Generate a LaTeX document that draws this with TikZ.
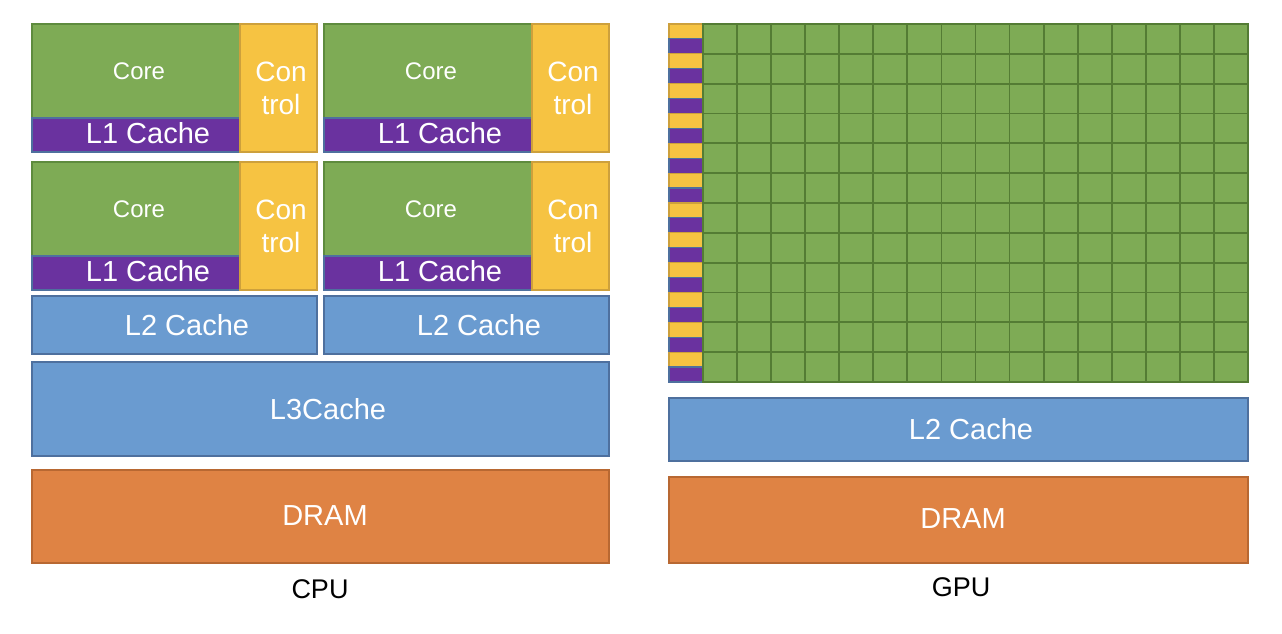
\documentclass[tikz,border=0pt]{standalone}
\usepackage{fontspec}
\setmainfont{Liberation Sans}
\definecolor{coregreen}{RGB}{126,171,85}
\definecolor{coreline}{RGB}{94,139,62}
\definecolor{gridline}{RGB}{84,124,52}
\definecolor{ctrlyellow}{RGB}{246,195,66}
\definecolor{ctrlline}{RGB}{205,160,60}
\definecolor{cachepurple}{RGB}{106,50,159}
\definecolor{cacheblue}{RGB}{106,155,208}
\definecolor{blueline}{RGB}{78,112,158}
\definecolor{dramorange}{RGB}{223,131,68}
\definecolor{orangeline}{RGB}{184,104,50}

\tikzset{
  corebox/.style={fill=coregreen, draw=coreline},
  lonebox/.style={fill=cachepurple, draw=blueline},
  ctrlbox/.style={fill=ctrlyellow, draw=ctrlline},
  cachebox/.style={fill=cacheblue, draw=blueline},
  drambox/.style={fill=dramorange, draw=orangeline},
  gridcell/.style={fill=coregreen, draw=gridline, line width=1.8pt},
  boxtxt/.style={text=white, inner sep=0pt, font=\fontsize{29}{33}\selectfont},
  coretxt/.style={boxtxt, font=\fontsize{24}{28}\selectfont},
  ctrltxt/.style={boxtxt, align=center, font=\fontsize{28}{33}\selectfont},
  captxt/.style={inner sep=0pt, font=\fontsize{27}{31}\selectfont}
}

\begin{document}
\begin{tikzpicture}[x=1pt, y=-1pt, line width=1.2pt]
  \useasboundingbox (0,0) rectangle (1282,634);

  % CPU: vier Kerne, je Core + L1 Cache + Control
  \foreach \cx/\cy [count=\i] in {32/24, 324/24, 32/162, 324/162} {
    \draw[corebox] (\cx,\cy) rectangle ++(208,94);
    \draw[lonebox] (\cx,\cy+94) rectangle ++(208,34);
    \draw[ctrlbox] (\cx+208,\cy) rectangle ++(77,128);
    \node[coretxt] (core\i) at (\cx+107,\cy+47) {Core};
    \node[boxtxt] (lone\i) at (\cx+116,\cy+109) {L1 Cache};
    \node[ctrltxt] (ctrl\i) at (\cx+249,\cy+64) {Con\\trol};
  }

  % CPU: L2, L3, DRAM
  \draw[cachebox] (32,296) rectangle (317,354);
  \draw[cachebox] (324,296) rectangle (609,354);
  \node[boxtxt] (cpultwoa) at (187,325) {L2 Cache};
  \node[boxtxt] (cpultwob) at (479,325) {L2 Cache};
  \draw[cachebox] (32,362) rectangle (609,456);
  \node[boxtxt] (cpulthree) at (328,409) {L3Cache};
  \draw[drambox] (32,470) rectangle (609,563);
  \node[boxtxt] (cpudram) at (325,516) {DRAM};
  \node[captxt] (cpu) at (320,589) {CPU};

  % GPU: 12 Zeilen, links Control/Cache-Streifen, 16 Kerne je Zeile
  \foreach \r in {0,...,11} {
    \draw[ctrlbox] (669,24+\r*29.83) rectangle ++(34,14.9);
    \draw[lonebox] (669,38.9+\r*29.83) rectangle ++(34,14.9);
    \foreach \c in {0,...,15}
      \draw[gridcell] (703+\c*34.06,24+\r*29.83) rectangle ++(34.06,29.83);
  }

  % GPU: L2, DRAM
  \draw[cachebox] (669,398) rectangle (1248,461);
  \node[boxtxt] (gpultwo) at (971,429) {L2 Cache};
  \draw[drambox] (669,477) rectangle (1248,563);
  \node[boxtxt] (gpudram) at (963,519) {DRAM};
  \node[captxt] (gpu) at (961,587) {GPU};
\end{tikzpicture}
\end{document}
